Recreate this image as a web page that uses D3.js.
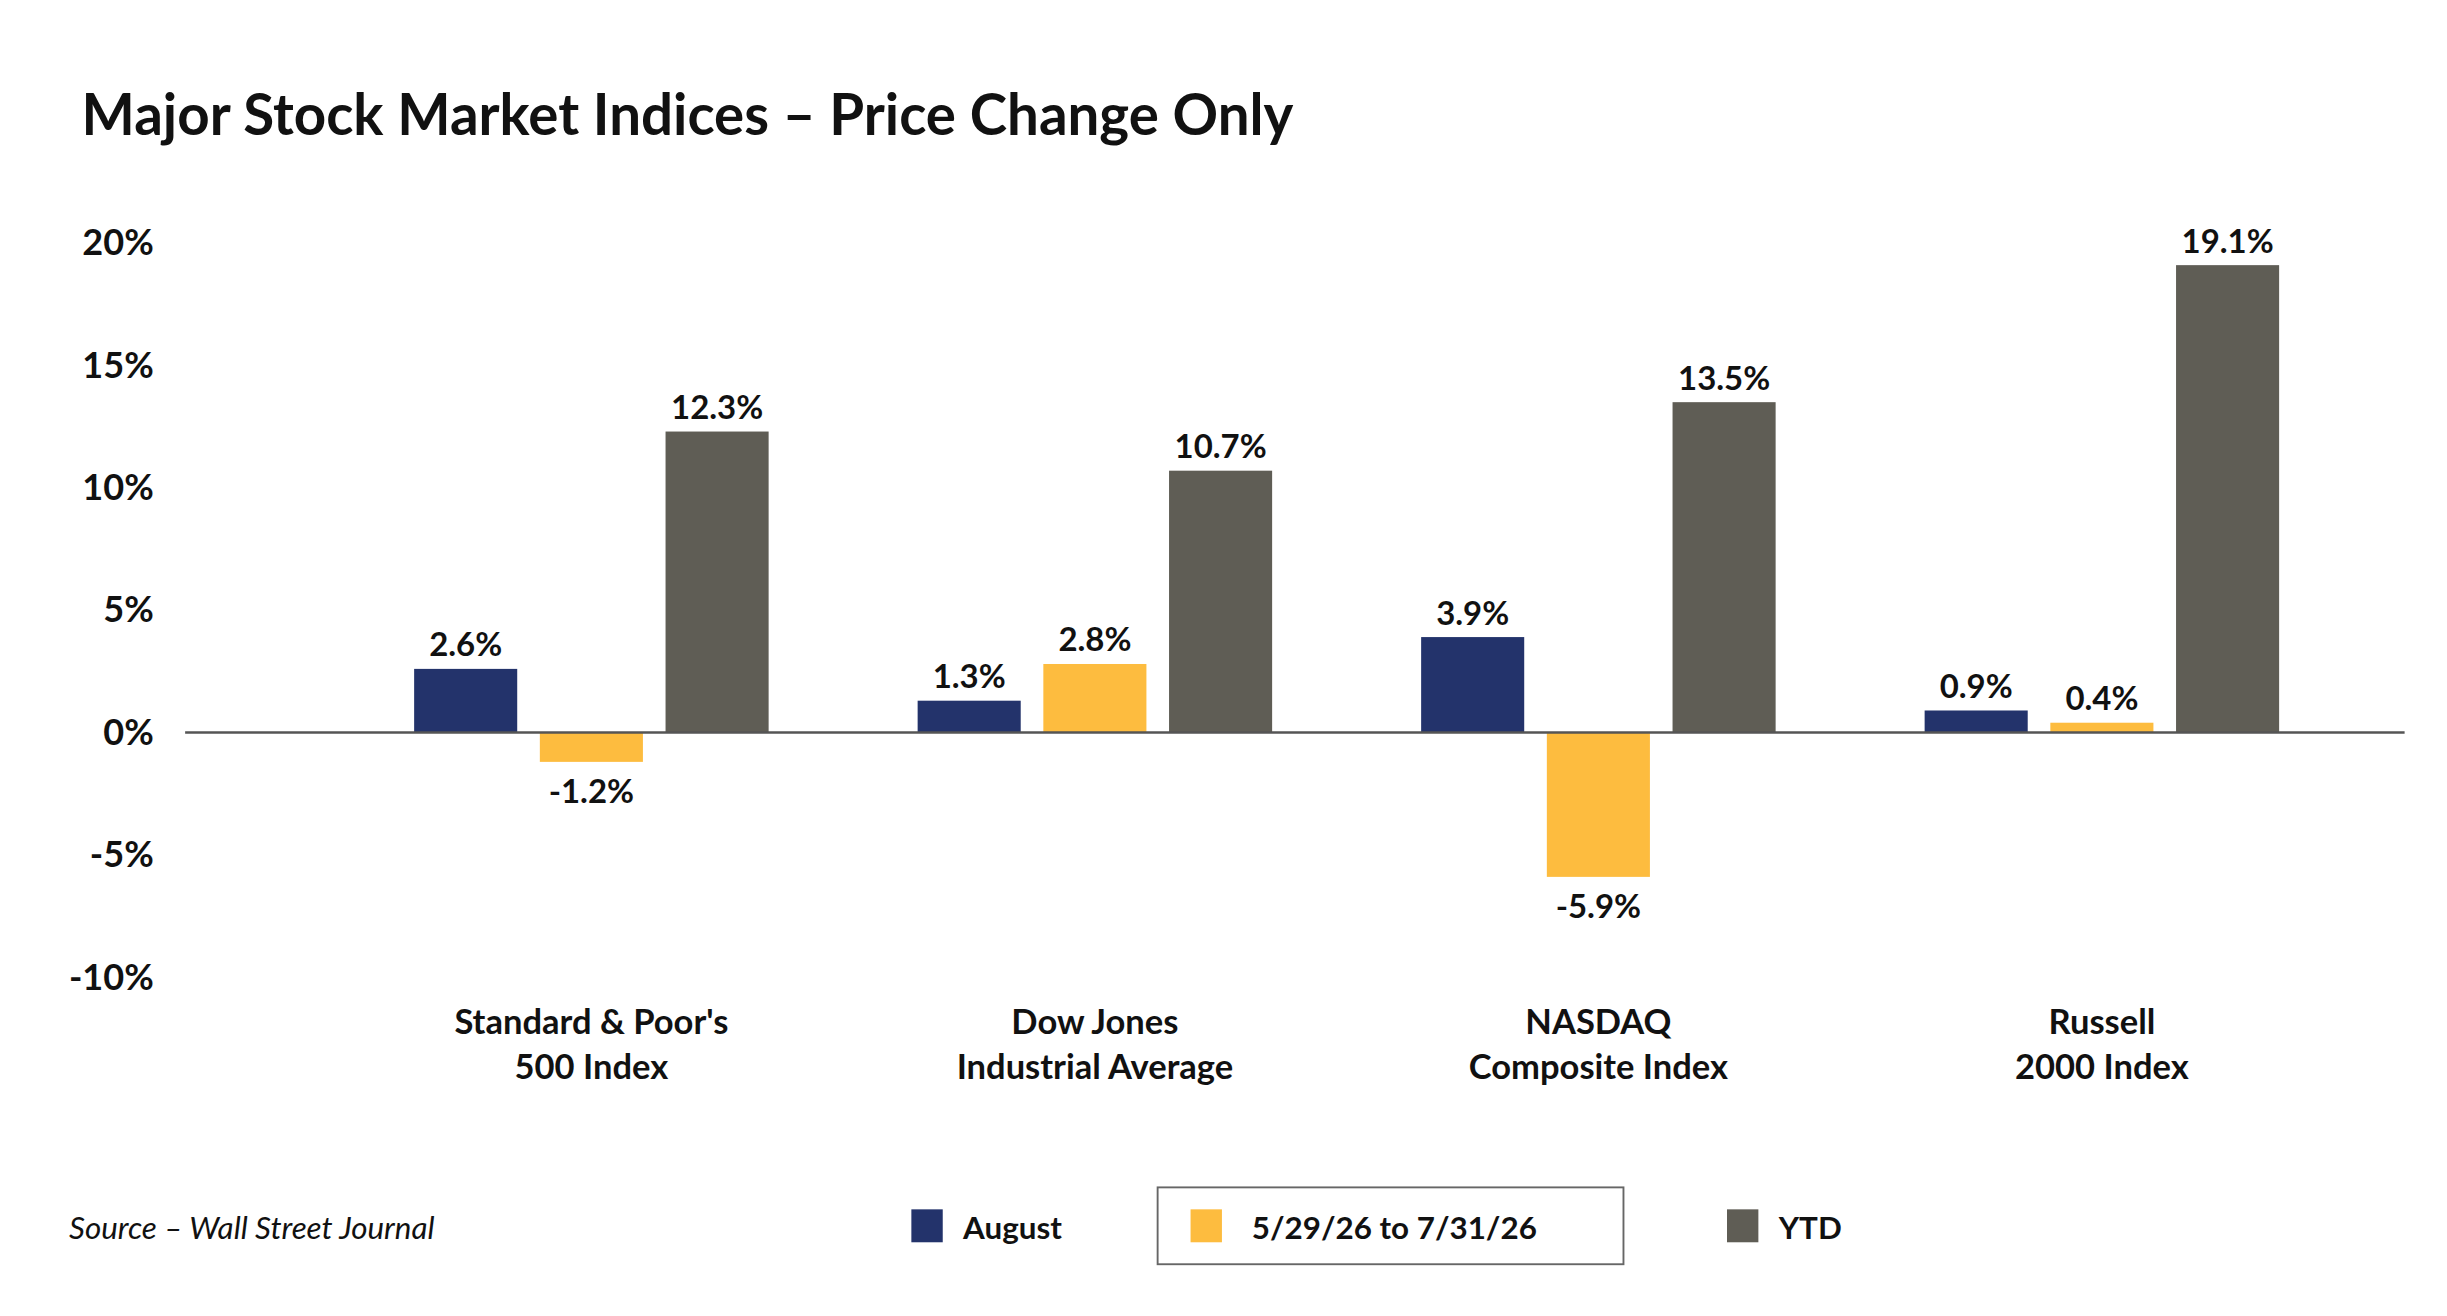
<!DOCTYPE html>
<html>
<head>
<meta charset="utf-8">
<script src="https://cdn.jsdelivr.net/npm/d3@7"></script>
<style>
  body { margin: 0; background: #fff; }
  text { font-family: Lato, "Open Sans", sans-serif; fill: #111; }
</style>
</head>
<body>
<div id="chart"></div>
<script>
// data
var categories = [["Standard & Poor's", "500 Index"], ["Dow Jones", "Industrial Average"],
                  ["NASDAQ", "Composite Index"], ["Russell", "2000 Index"]];
var seriesNames = ["August", "5/29/26 to 7/31/26", "YTD"];
var august = [2.6, 1.3, 3.9, 0.9];
var period = [-1.2, 2.8, -5.9, 0.4];
var ytd = [12.3, 10.7, 13.5, 19.1];
var yTicks = [-10, -5, 0, 5, 10, 15, 20];
var colors = ["#23336b", "#fdbc3f", "#5f5d55"];

var W = 1560, H = 839;
var svg = d3.select("#chart").append("svg")
    .attr("width", 2447).attr("height", 1316)
    .attr("viewBox", `0 0 ${W} ${H}`);

// title
svg.append("text").attr("x", 52).attr("y", 86)
    .attr("font-size", 36).attr("font-weight", 700)
    .text("Major Stock Market Indices \u2013 Price Change Only");

var yScale = d3.scaleLinear().domain([-10, 20]).range([623, 155]);
var x0 = d3.scaleBand().domain(d3.range(categories.length)).range([216.5, 1500.5]);
var x1 = d3.scaleBand().domain(d3.range(3)).range([-113, 113]).paddingInner(0.18);

// y axis labels
var yAxis = d3.axisLeft(yScale).tickValues(yTicks).tickSize(0).tickPadding(0)
    .tickFormat(d => d + "%");
var yg = svg.append("g").attr("transform", "translate(98,0)").call(yAxis);
yg.select(".domain").remove();
yg.selectAll("text").attr("font-size", 23).attr("font-weight", 700)
    .attr("fill", "#111").style("font-family", "Lato, sans-serif");

var rows = categories.map((c, i) => [august[i], period[i], ytd[i]]);

var groups = svg.selectAll(".grp").data(rows).enter().append("g")
    .attr("transform", (d, i) => `translate(${x0(i) + x0.bandwidth() / 2},0)`);

groups.selectAll("rect").data(d => d).enter().append("rect")
    .attr("x", (d, j) => x1(j))
    .attr("width", x1.bandwidth())
    .attr("y", d => yScale(Math.max(0, d)))
    .attr("height", d => Math.abs(yScale(d) - yScale(0)))
    .attr("fill", (d, j) => colors[j]);

groups.selectAll(".val").data(d => d).enter().append("text")
    .attr("x", (d, j) => x1(j) + x1.bandwidth() / 2)
    .attr("y", d => d >= 0 ? yScale(d) - 8 : yScale(d) + 26)
    .attr("text-anchor", "middle").attr("font-size", 21).attr("font-weight", 700)
    .text(d => d.toFixed(1) + "%");

// zero line
svg.append("line").attr("x1", 118).attr("x2", 1533)
    .attr("y1", yScale(0)).attr("y2", yScale(0))
    .attr("stroke", "#555").attr("stroke-width", 1.5);

// category labels
groups.each(function (d, i) {
    var t = d3.select(this).append("text").attr("text-anchor", "middle")
        .attr("font-size", 22).attr("font-weight", 700);
    categories[i].forEach((line, k) => {
        t.append("tspan").attr("x", 0).attr("y", 659 + k * 29).text(line);
    });
});

// source
svg.append("text").attr("x", 44).attr("y", 790).attr("font-size", 20)
    .attr("font-style", "italic").text("Source \u2013 Wall Street Journal");

// legend
var legendX = [581, 759, 1101];
svg.append("rect").attr("x", 738).attr("y", 757).attr("width", 297).attr("height", 49)
    .attr("fill", "none").attr("stroke", "#666").attr("stroke-width", 1.2);
seriesNames.forEach((n, j) => {
    svg.append("rect").attr("x", legendX[j]).attr("y", 771).attr("width", 20).attr("height", 21)
        .attr("fill", colors[j]);
    svg.append("text").attr("x", legendX[j] + (j === 1 ? 39 : 33)).attr("y", 790)
        .attr("font-size", 20).attr("font-weight", 700).text(n);
});
</script>
</body>
</html>
